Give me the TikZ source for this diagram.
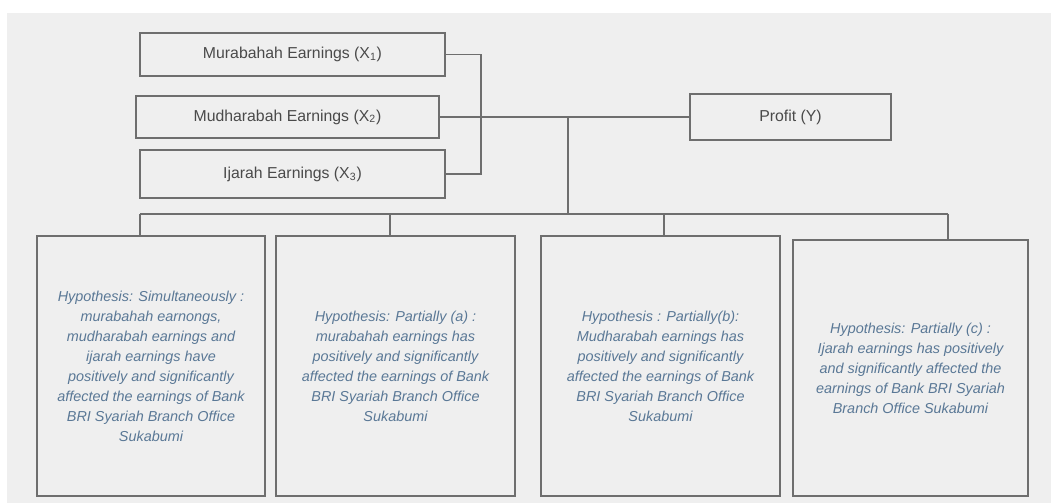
\documentclass[tikz,border=0pt]{standalone}
\usepackage{fontspec}
\setmainfont{Liberation Sans}
\usepackage{tikz}

\definecolor{bggray}{HTML}{EFEFEF}
\definecolor{linegray}{HTML}{6E6E6E}
\definecolor{labgray}{HTML}{4A4A4A}
\definecolor{hypblue}{HTML}{5A7896}

\tikzset{
    varbox/.style={draw=linegray, line width=0.8pt, fill=bggray, text=labgray,
        font=\fontsize{9}{10}\selectfont, inner sep=0pt},
    hypbox/.style={draw=linegray, line width=0.8pt, fill=bggray, text=hypblue,
        align=center, inner sep=0pt,
        font=\fontsize{8.2}{11.4}\selectfont\itshape},
    link/.style={draw=linegray, line width=0.8pt}
}

\begin{document}
\begin{tikzpicture}[x=0.02cm, y=-0.02cm]
    \useasboundingbox (0,0) rectangle (1051,503);
    \fill[bggray] (7,13) rectangle (1051,503);

    \node[varbox, minimum width=6.1cm, minimum height=0.86cm] (murab) at (292.5,54.5)
            {Murabahah Earnings (X\textsubscript{1})};
    \node[varbox, minimum width=6.06cm, minimum height=0.84cm] (mudh) at (287.5,117)
            {Mudharabah Earnings (X\textsubscript{2})};
    \node[varbox, minimum width=6.1cm, minimum height=0.96cm] (ijarah) at (292.5,174)
            {Ijarah Earnings (X\textsubscript{3})};
    \node[varbox, minimum width=4.02cm, minimum height=0.92cm] (profit) at (790.5,117)
            {Profit (Y)};

    \node[hypbox, minimum width=4.56cm, minimum height=5.2cm] (hyp1) at (151,366)
            {Hypothesis: Simultaneously :\\ murabahah earnongs,\\ mudharabah earnings and\\
             ijarah earnings have\\ positively and significantly\\
             affected the earnings of Bank\\ BRI Syariah Branch Office\\ Sukabumi};
    \node[hypbox, minimum width=4.78cm, minimum height=5.2cm] (hyp2) at (395.5,366)
            {Hypothesis: Partially (a) :\\ murabahah earnings has\\
             positively and significantly\\ affected the earnings of Bank\\
             BRI Syariah Branch Office\\ Sukabumi};
    \node[hypbox, minimum width=4.78cm, minimum height=5.2cm] (hyp3) at (660.5,366)
            {Hypothesis : Partially(b):\\ Mudharabah earnings has\\
             positively and significantly\\ affected the earnings of Bank\\
             BRI Syariah Branch Office\\ Sukabumi};
    \node[hypbox, minimum width=4.7cm, minimum height=5.12cm] (hyp4) at (910.5,368)
            {Hypothesis: Partially (c) :\\ Ijarah earnings has positively\\
             and significantly affected the\\ earnings of Bank BRI Syariah\\
             Branch Office Sukabumi};

    \coordinate (brk) at (481,117);
    \coordinate (join) at (568,117);
    \coordinate (split) at (568,214);
    \coordinate (d1) at (140,214);
    \coordinate (d2) at (390,214);
    \coordinate (d3) at (664,214);
    \coordinate (d4) at (948,214);

    \draw[link] (murab.east) -| (brk) |- (ijarah.east);
    \draw[link] (mudh.east) -- (profit.west);
    \draw[link] (join) -- (split);
    \draw[link] (d1) -- (d4);
    \foreach \i in {1,...,4}
        \draw[link] (d\i) -- (d\i |- hyp\i.north);
\end{tikzpicture}
\end{document}
